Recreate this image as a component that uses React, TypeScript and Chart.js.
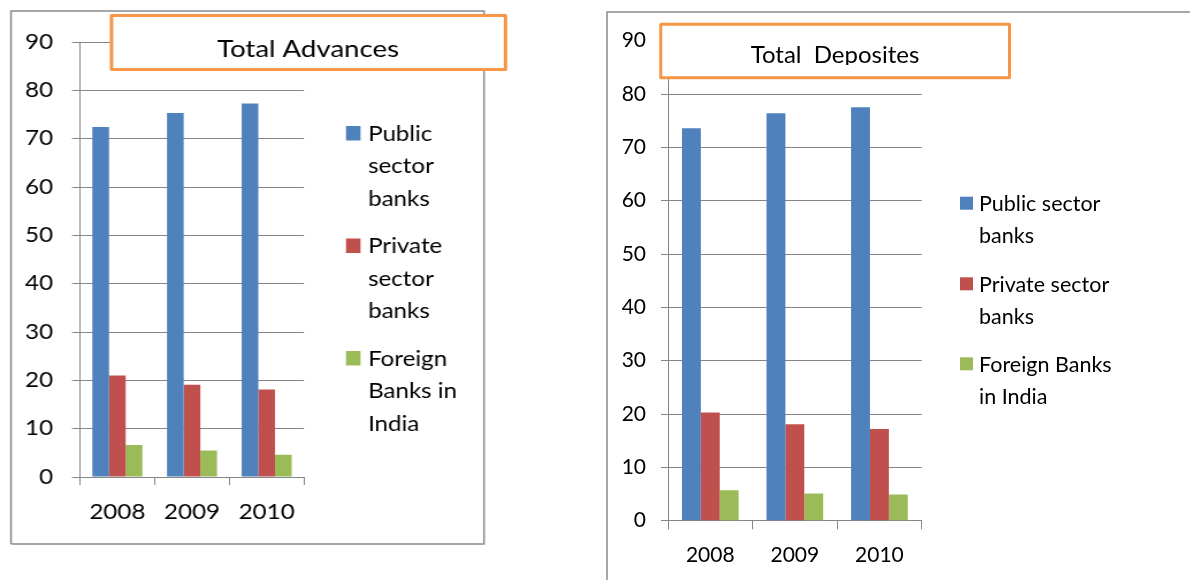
import React, { useEffect, useRef } from "react";
import { Chart, registerables } from "chart.js";
Chart.register(...registerables);

const YEARS = ["2008", "2009", "2010"];
const SERIES_NAMES = ["Public sector banks", "Private sector banks", "Foreign Banks in India"];
const ADV_PUBLIC = [72.4, 75.3, 77.3];
const ADV_PRIVATE = [21.0, 19.1, 18.1];
const ADV_FOREIGN = [6.6, 5.5, 4.6];
const DEP_PUBLIC = [73.6, 76.4, 77.5];
const DEP_PRIVATE = [20.3, 18.1, 17.2];
const DEP_FOREIGN = [5.7, 5.1, 4.9];
const Y_MIN = 0;
const Y_MAX = 90;
const Y_STEP = 10;
const ADV_TITLE = "Total Advances";
const DEP_TITLE = "Total  Deposites";
const ADV_LEGEND_LINES = [["Public", "sector", "banks"], ["Private", "sector", "banks"], ["Foreign", "Banks in", "India"]];
const DEP_LEGEND_LINES = [["Public sector", "banks"], ["Private sector", "banks"], ["Foreign Banks", "in India"]];
const COLORS = ["#4F81BD", "#C0504D", "#9BBB59"];
const GRID = "#868686";
const FONT = "Lato, 'Open Sans', sans-serif";

Chart.defaults.font.family = FONT;

type Props = {
  left: number;
  width: number;
  intWidth: number;
  height: number;
  series: number[][];
  legendLines: string[][];
  title: string;
  titleRect: [number, number, number, number];
  titleX: number;
  titleBase: number;
  titleSize: number;
  titleClip?: number;
  area: [number, number, number, number];
  yTickLen: number;
  yPad: number;
  xTickLen: number;
  xPad: number;
  xHeight: number;
  tickSize: number;
  legend: { boxX: number; box: number; tops: number[]; textX: number; base: number; lineH: number; size: number };
  frame: number[][];
};

function BankChart(p: Props) {
  const ref = useRef<HTMLCanvasElement | null>(null);
  useEffect(() => {
    const canvas = ref.current!;
    const s = p.width / p.intWidth; // horizontal stretch of the canvas on the page
    const X = (v: number) => v / s;
    const [aL, aT, aR, aB] = p.area;
    const decor = {
      id: "decor",
      beforeDraw(chart: any) {
        const ctx = chart.ctx;
        ctx.save();
        ctx.strokeStyle = "#8a8a8a";
        ctx.lineWidth = 1.5;
        ctx.beginPath();
        p.frame.forEach((pt, i) => (i === 0 ? ctx.moveTo(X(pt[0]), pt[1]) : ctx.lineTo(X(pt[0]), pt[1])));
        ctx.stroke();
        ctx.restore();
      },
      afterDraw(chart: any) {
        const ctx = chart.ctx;
        ctx.save();
        const [x, y, w, h] = p.titleRect;
        ctx.fillStyle = "#ffffff";
        ctx.fillRect(X(x), y, X(w), h);
        ctx.strokeStyle = "#F79646";
        ctx.lineWidth = 3;
        ctx.lineJoin = "round";
        ctx.strokeRect(X(x), y, X(w), h);
        ctx.save();
        if (p.titleClip !== undefined) {
          ctx.beginPath();
          ctx.rect(X(x), y, X(w), p.titleClip - y);
          ctx.clip();
        }
        ctx.fillStyle = "#000";
        ctx.font = `${p.titleSize}px ${FONT}`;
        ctx.textAlign = "center";
        ctx.textBaseline = "alphabetic";
        ctx.fillText(p.title, X(p.titleX), p.titleBase);
        ctx.restore();
        const L = p.legend;
        chart.data.datasets.forEach((ds: any, i: number) => {
          const top = L.tops[i];
          ctx.fillStyle = ds.backgroundColor;
          ctx.fillRect(X(L.boxX), top, X(L.box), L.box);
          ctx.fillStyle = "#000";
          ctx.font = `${L.size}px ${FONT}`;
          ctx.textAlign = "left";
          p.legendLines[i].forEach((line, j) => {
            ctx.fillText(line, X(L.textX), top + L.base + j * L.lineH);
          });
        });
        ctx.restore();
      },
    };
    const chart = new Chart(canvas, {
      type: "bar",
      data: {
        labels: YEARS,
        datasets: p.series.map((d, i) => ({
          label: SERIES_NAMES[i],
          data: d,
          backgroundColor: COLORS[i],
          borderWidth: 0,
          categoryPercentage: 0.67,
          barPercentage: 1,
        })),
      },
      options: {
        responsive: false,
        animation: false,
        devicePixelRatio: 1,
        layout: {
          padding: { left: 0, top: aT, right: X(p.width - aR), bottom: p.height - aB - p.xHeight },
        },
        plugins: { legend: { display: false }, title: { display: false }, tooltip: { enabled: false } },
        scales: {
          x: {
            grid: { display: true, drawOnChartArea: false, offset: true, tickLength: p.xTickLen, color: GRID, lineWidth: 1 },
            border: { color: GRID, width: 1 },
            ticks: { padding: p.xPad, color: "#000", font: { size: p.tickSize } },
            afterFit: (sc: any) => {
              sc.height = p.xHeight;
            },
          },
          y: {
            min: Y_MIN,
            max: Y_MAX,
            grid: { color: GRID, tickLength: X(p.yTickLen), lineWidth: 1 },
            border: { color: GRID, width: 1 },
            ticks: { stepSize: Y_STEP, padding: X(p.yPad), color: "#000", font: { size: p.tickSize } },
            afterFit: (sc: any) => {
              sc.width = X(aL);
            },
          },
        },
      },
      plugins: [decor],
    } as any);
    return () => chart.destroy();
  }, []);
  return (
    <canvas
      ref={ref}
      width={p.intWidth}
      height={p.height}
      style={{ position: "absolute", left: p.left, top: 0, width: p.width, height: p.height }}
    />
  );
}

export default function App() {
  return (
    <div style={{ position: "fixed", left: 0, top: 0, width: 1190, height: 580, background: "#fff" }}>
      <BankChart
        left={0}
        width={520}
        intWidth={452}
        height={580}
        series={[ADV_PUBLIC, ADV_PRIVATE, ADV_FOREIGN]}
        legendLines={ADV_LEGEND_LINES}
        title={ADV_TITLE}
        titleRect={[111.5, 15.5, 394, 54]}
        titleX={308}
        titleBase={56.5}
        titleSize={24}
        area={[80, 42, 304, 477]}
        yTickLen={8}
        yPad={19}
        xTickLen={8}
        xPad={15}
        xHeight={60}
        tickSize={21}
        legend={{ boxX: 346, box: 14.5, tops: [126, 238.5, 351], textX: 368, base: 14.5, lineH: 32.5, size: 21 }}
        frame={[[11, 544], [11, 11], [484, 11], [484, 544], [11, 544]]}
      />
      <BankChart
        left={600}
        width={590}
        intWidth={590}
        height={580}
        series={[DEP_PUBLIC, DEP_PRIVATE, DEP_FOREIGN]}
        legendLines={DEP_LEGEND_LINES}
        title={DEP_TITLE}
        titleRect={[60.8, 24.2, 348.7, 53.6]}
        titleX={235}
        titleBase={63.3}
        titleSize={24}
        titleClip={65}
        area={[68, 40.7, 321.7, 520.7]}
        yTickLen={7}
        yPad={15}
        xTickLen={8.6}
        xPad={13}
        xHeight={55}
        tickSize={21}
        legend={{ boxX: 360, box: 13, tops: [196.7, 277.3, 357.3], textX: 379, base: 14.3, lineH: 32, size: 21.5 }}
        frame={[[7, 580], [7, 12], [590, 12]]}
      />
    </div>
  );
}
